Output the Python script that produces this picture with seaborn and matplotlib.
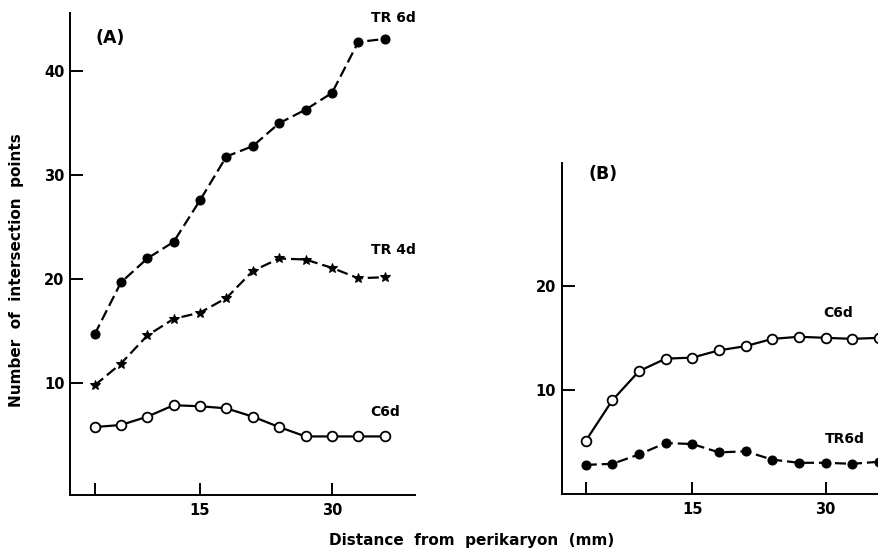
import matplotlib
matplotlib.use("Agg")
import matplotlib.pyplot as plt
import seaborn as sns
import pandas as pd

# ---- data ----
distance = [3, 6, 9, 12, 15, 18, 21, 24, 27, 30, 33, 36]

a_tr6d = [14.7, 19.7, 22.0, 23.6, 27.6, 31.8, 32.8, 35.0, 36.3, 37.9, 42.8, 43.1]
a_tr4d = [9.8, 11.9, 14.6, 16.2, 16.8, 18.2, 20.8, 22.0, 21.9, 21.1, 20.1, 20.2]
a_c6d = [5.8, 6.0, 6.8, 7.9, 7.8, 7.6, 6.8, 5.8, 4.9, 4.9, 4.9, 4.9]

b_c6d = [5.1, 9.0, 11.8, 13.0, 13.1, 13.8, 14.2, 14.9, 15.1, 15.0, 14.9, 15.0]
b_tr6d = [2.8, 2.9, 3.8, 4.9, 4.8, 4.0, 4.1, 3.3, 3.0, 3.0, 2.9, 3.1]

x_ticks = [3, 15, 30]
x_tick_labels = ["", "15", "30"]
a_y_ticks = [10, 20, 30, 40]
b_y_ticks = [10, 20]

sns.set_style("ticks")
plt.rcParams["font.family"] = ["DejaVu Sans"]
plt.rcParams["font.weight"] = "bold"
plt.rcParams["text.color"] = "black"
plt.rcParams["axes.labelcolor"] = "black"

fig = plt.figure(figsize=(8.79, 5.51), dpi=100)
axA = fig.add_axes([0.0796, 0.1016, 0.393, 0.875])
axB = fig.add_axes([0.639, 0.1034, 0.361, 0.601])

df_a = pd.DataFrame({"d": distance, "tr6": a_tr6d, "tr4": a_tr4d, "c6": a_c6d})
df_b = pd.DataFrame({"d": distance, "c6": b_c6d, "tr6": b_tr6d})

lw = 1.6
dash = (5, 2.2)

sns.lineplot(data=df_a, x="d", y="tr6", ax=axA, color="black", lw=lw,
             marker="o", markersize=6.5, markerfacecolor="black",
             markeredgecolor="black", dashes=False, linestyle=(0, dash), clip_on=False)
sns.lineplot(data=df_a, x="d", y="tr4", ax=axA, color="black", lw=lw,
             marker="*", markersize=7.5, markerfacecolor="black",
             markeredgecolor="black", dashes=False, linestyle=(0, dash), clip_on=False)
sns.lineplot(data=df_a, x="d", y="c6", ax=axA, color="black", lw=lw,
             marker="o", markersize=7, markerfacecolor="white",
             markeredgecolor="black", markeredgewidth=1.3, clip_on=False)

sns.lineplot(data=df_b, x="d", y="c6", ax=axB, color="black", lw=lw,
             marker="o", markersize=7, markerfacecolor="white",
             markeredgecolor="black", markeredgewidth=1.3, clip_on=False)
sns.lineplot(data=df_b, x="d", y="tr6", ax=axB, color="black", lw=lw,
             marker="o", markersize=6.5, markerfacecolor="black",
             markeredgecolor="black", dashes=False, linestyle=(0, dash), clip_on=False)

for ax in (axA, axB):
    sns.despine(ax=ax)
    for s in ("left", "bottom"):
        ax.spines[s].set_linewidth(1.4)
        ax.spines[s].set_color("black")
    ax.set_xticks(x_ticks)
    ax.set_xticklabels(x_tick_labels)
    ax.tick_params(axis="both", direction="in", length=9, width=1.4,
                   labelsize=10.5, colors="black", pad=6)
    ax.tick_params(axis="y", pad=4)
    ax.set_xlabel("")
    ax.set_ylabel("")
    for lab in ax.get_xticklabels() + ax.get_yticklabels():
        lab.set_fontweight("bold")

axA.set_xlim(0.2, 39.5)
axA.set_ylim(-0.73, 45.6)
axA.set_yticks(a_y_ticks)
axB.set_xlim(0.3, 36.0)
axB.set_ylim(0, 31.8)
axB.set_yticks(b_y_ticks)

txt = dict(fontsize=10, fontweight="bold", ha="center", va="center", color="black")
axA.text(37.0, 45.1, "TR 6d", clip_on=False, **txt)
axA.text(37.0, 22.8, "TR 4d", clip_on=False, **txt)
axA.text(36.1, 7.2, "C6d", clip_on=False, **txt)
axA.text(4.8, 43.2, "(A)", fontsize=12.5, fontweight="bold", ha="center", va="center",
         color="black")

axB.text(31.4, 17.4, "C6d", **txt)
axB.text(32.1, 5.3, "TR6d", **txt)
axB.text(4.9, 30.7, "(B)", fontsize=12.5, fontweight="bold", ha="center", va="center",
         color="black")

fig.text(472 / 879, 1 - 540 / 551, "Distance  from  perikaryon  (mm)",
         fontsize=11, fontweight="bold", ha="center", va="center", color="black")
fig.text(17 / 879, 1 - 270 / 551, "Number  of  intersection  points",
         fontsize=11, fontweight="bold", ha="center", va="center", rotation=90,
         color="black")

fig.savefig("out.png", dpi=100)
